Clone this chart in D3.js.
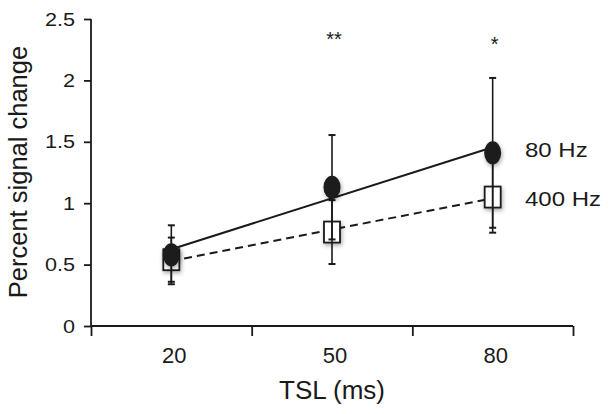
<!DOCTYPE html>
<html><head><meta charset="utf-8">
<script src="https://cdn.jsdelivr.net/npm/d3@7"></script>
<style>
body{margin:0;background:#fff;}
svg{display:block;}
text{font-family:"Liberation Sans",Arial,Helvetica,sans-serif;fill:#1a1a1a;}
</style></head>
<body>
<svg id="chart" width="612" height="414"></svg>
<script>
// ---- data ----
const categories = ["20", "50", "80"];
const seriesNames = ["80 Hz", "400 Hz"];
const hz80Mean = [0.58, 1.13, 1.41];
const hz80Err  = [0.24, 0.425, 0.61];
const hz400Mean = [0.54, 0.765, 1.05];
const hz400Err  = [0.18, 0.26, 0.29];
const significance = ["", "**", "*"];
const yTicks = [0, 0.5, 1, 1.5, 2, 2.5];
const yTickLabels = ["0", "0.5", "1", "1.5", "2", "2.5"];
const xTitle = "TSL (ms)";
const yTitle = "Percent signal change";

(function () {
// ---- layout ----
const svg = d3.select("#chart");
const ink = "#1a1a1a";
const pLeft = 91, pRight = 573, pTop = 19, pBottom = 326;

const x = d3.scaleBand().domain(categories).range([pLeft, pRight]);
const xEdge = d3.scaleLinear().domain([0, categories.length]).range([pLeft, pRight]);
const y = d3.scaleLinear().domain([0, 2.5]).range([pBottom, pTop]);

// shadow filter
const defs = svg.append("defs");
const f = defs.append("filter").attr("id", "sh").attr("x", "-50%").attr("y", "-50%").attr("width", "200%").attr("height", "200%");
f.append("feDropShadow").attr("dx", 1).attr("dy", 2).attr("stdDeviation", 2).attr("flood-color", "#000").attr("flood-opacity", 0.35);

// y axis
const yAxis = svg.append("g").attr("transform", `translate(${pLeft},0)`)
  .call(d3.axisLeft(y).tickValues(yTicks).tickSize(7).tickSizeOuter(0).tickFormat(""));
yAxis.selectAll("path,line").attr("stroke", ink).attr("stroke-width", 1.8);
yAxis.select(".domain").attr("d", `M0,${pTop}V${pBottom}`);

svg.append("g").selectAll("text").data(yTicks).join("text")
  .attr("text-anchor", "end")
  .attr("font-size", 18)
  .attr("transform", (d) => `translate(75,${y(d) + 6.5}) scale(1.2,1)`)
  .text((d, i) => yTickLabels[i]);

// x axis (ticks at category boundaries)
const xAxis = svg.append("g").attr("transform", `translate(0,${pBottom})`)
  .call(d3.axisBottom(xEdge).tickValues(d3.range(categories.length + 1)).tickSize(10).tickSizeOuter(0).tickFormat(""));
xAxis.selectAll("path,line").attr("stroke", ink).attr("stroke-width", 1.8);
xAxis.select(".domain").attr("d", `M${pLeft},0H${pRight}`);

svg.append("g").selectAll("text").data(categories).join("text")
  .attr("x", (d) => x(d) + x.bandwidth() / 2 + 3)
  .attr("y", 363)
  .attr("text-anchor", "middle")
  .attr("font-size", 22)
  .text((d) => d);

// titles
svg.append("text").attr("x", 332).attr("y", 399).attr("text-anchor", "middle").attr("font-size", 26).text(xTitle);
svg.append("text").attr("transform", "translate(27,172) rotate(-90)").attr("text-anchor", "middle").attr("font-size", 25.5).text(yTitle);

// regression trend lines
function fit(vals) {
  const n = vals.length, xs = d3.range(n);
  const mx = d3.mean(xs), my = d3.mean(vals);
  const b = d3.sum(xs, (xi, i) => (xi - mx) * (vals[i] - my)) / d3.sum(xs, (xi) => (xi - mx) ** 2);
  const a = my - b * mx;
  return [[0, a], [n - 1, a + b * (n - 1)]];
}
const cx = (i) => x(categories[i]) + x.bandwidth() / 2;
const line = d3.line().x((d) => cx(d[0])).y((d) => y(d[1]));

svg.append("path").attr("d", line(fit(hz80Mean))).attr("fill", "none").attr("stroke", ink).attr("stroke-width", 2);
svg.append("path").attr("d", line(fit(hz400Mean))).attr("fill", "none").attr("stroke", ink).attr("stroke-width", 2).attr("stroke-dasharray", "8,5");

// squares (400 Hz)
const sqW = 16, sqH = 21;
svg.append("g").selectAll("rect").data(hz400Mean).join("rect")
  .attr("x", (d, i) => cx(i) - sqW / 2)
  .attr("y", (d) => y(d) - sqH / 2)
  .attr("width", sqW).attr("height", sqH)
  .attr("fill", "#fff").attr("stroke", ink).attr("stroke-width", 1.8)
  .attr("filter", "url(#sh)");

// error bars
function errorBars(means, errs) {
  const g = svg.append("g").attr("stroke", ink).attr("stroke-width", 1.6);
  means.forEach((m, i) => {
    const c = cx(i);
    g.append("line").attr("x1", c).attr("x2", c).attr("y1", y(m + errs[i])).attr("y2", y(m - errs[i]));
    [m + errs[i], m - errs[i]].forEach((v) => {
      g.append("line").attr("x1", c - 3.5).attr("x2", c + 3.5).attr("y1", y(v)).attr("y2", y(v)).attr("stroke-width", 2);
    });
  });
}
errorBars(hz400Mean, hz400Err);
errorBars(hz80Mean, hz80Err);

// circles (80 Hz)
svg.append("g").selectAll("ellipse").data(hz80Mean).join("ellipse")
  .attr("cx", (d, i) => cx(i))
  .attr("cy", (d) => y(d))
  .attr("rx", 8.5).attr("ry", 11.5)
  .attr("fill", ink)
  .attr("filter", "url(#sh)");

// series labels
svg.append("text").attr("font-size", 20)
  .attr("transform", `translate(525,157) scale(1.2,1)`).text(seriesNames[0]);
svg.append("text").attr("font-size", 20)
  .attr("transform", `translate(525,206) scale(1.2,1)`).text(seriesNames[1]);

// significance markers
const starLevel = [null, 2.28, 2.24];
svg.append("g").selectAll("text").data(significance).join("text")
  .attr("x", (d, i) => cx(i) + 2)
  .attr("y", (d, i) => starLevel[i] == null ? 0 : y(starLevel[i]))
  .attr("text-anchor", "middle")
  .attr("font-size", 20)
  .text((d) => d);
})();
</script>
</body></html>
